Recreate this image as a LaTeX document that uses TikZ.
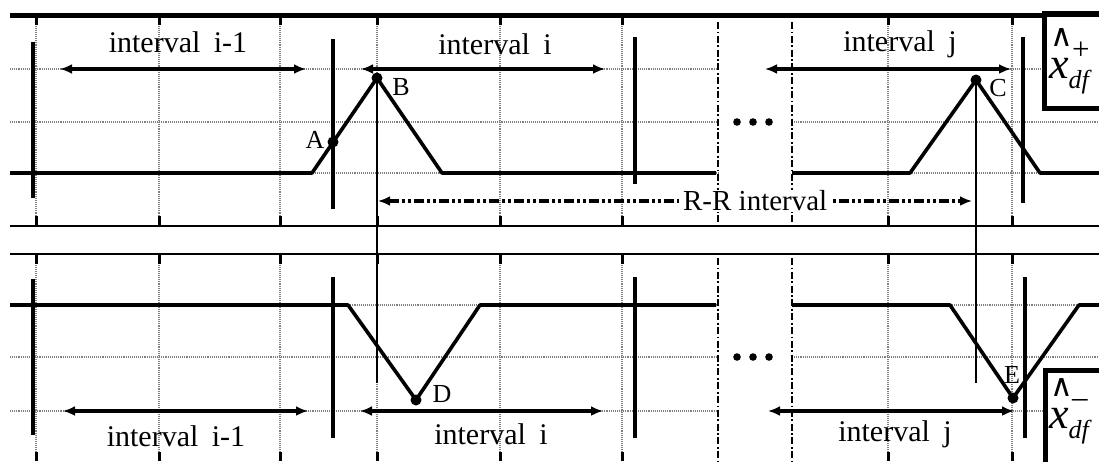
\documentclass[tikz,border=0pt]{standalone}
\usepackage{fontspec}
\setmainfont{Liberation Serif}
\newfontfamily\symfam{DejaVu Sans}
\usetikzlibrary{arrows.meta}
\begin{document}
\begin{tikzpicture}[x=1pt,y=-1pt,
  gridline/.style={black!50, line width=1.1pt, densely dotted},
  frame/.style={line width=1.8pt},
  topframe/.style={line width=5.5pt},
  tickmark/.style={line width=3pt},
  boundary/.style={line width=4pt},
  sig/.style={line width=3.6pt, line join=round},
  thin/.style={line width=2pt},
  iarrow/.style={line width=3.6pt, {Latex[length=12pt,width=10pt]}-{Latex[length=12pt,width=10pt]}},
  ddot/.style={line width=1.8pt, dash pattern=on 7pt off 2.5pt on 1.8pt off 2.5pt},
  rr/.style={line width=3.6pt, dash pattern=on 10pt off 3pt on 3pt off 3pt on 3pt off 3pt, {Latex[length=12pt,width=10pt]}-{Latex[length=12pt,width=10pt]}},
  dotpt/.style={circle, fill, inner sep=0pt, minimum size=11pt},
  lbl/.style={font=\fontsize{30}{34}\selectfont, inner sep=1pt},
  ptlbl/.style={font=\fontsize{26}{28}\selectfont, inner sep=1pt},
  boxlbl/.style={font=\fontsize{44}{46}\selectfont, inner sep=0pt},
  boxframe/.style={line width=5.5pt, fill=white}
]
\useasboundingbox (0,0) rectangle (1099,461);
\clip (0,0) rectangle (1099,461);

% ---------- grid ----------
\foreach \y in {69,122,173,305,357,411} {
  \draw[gridline] (10,\y) -- (718,\y);
  \draw[gridline] (792,\y) -- (1099,\y);
}
\foreach \x in {36,159,280,377,500,622,888,1012} {
  \draw[gridline] (\x,15) -- (\x,226);
  \draw[gridline] (\x,254) -- (\x,461);
  \draw[tickmark] (\x,15) -- (\x,25);
  \draw[tickmark] (\x,226) -- (\x,216);
  \draw[tickmark] (\x,254) -- (\x,264);
  \draw[tickmark] (\x,461) -- (\x,452);
}
% frame lines
\draw[topframe] (10,15.5) -- (1099,15.5);
\draw[frame] (10,226) -- (1099,226);
\draw[frame] (10,254) -- (1099,254);

% dash-dot separators
\draw[ddot] (718,22) -- (718,222);
\draw[ddot] (792,22) -- (792,222);
\draw[ddot] (718,258) -- (718,461);
\draw[ddot] (792,258) -- (792,461);

% ellipsis dots
\foreach \x in {737,753,769} {
  \fill (\x,122) circle (3.8pt);
  \fill (\x,357) circle (3.8pt);
}

% ---------- interval boundaries ----------
\draw[boundary] (33,42) -- (33,198);
\draw[boundary] (333,39) -- (333,209);
\draw[boundary] (635,37) -- (635,184);
\draw[boundary] (1023,37) -- (1023,203);
\draw[boundary] (33,279) -- (33,435);
\draw[boundary] (333,277) -- (333,438);
\draw[boundary] (635,277) -- (635,438);
\draw[boundary] (1025,277) -- (1025,438);

% ---------- signal points ----------
\coordinate (s1) at (10,173);
\coordinate (s2) at (312,173);
\coordinate (B) at (377,78);
\coordinate (s3) at (442,173);
\coordinate (s4) at (716,173);
\coordinate (A) at (333,142);
\coordinate (t1) at (792,173);
\coordinate (t2) at (910,173);
\coordinate (C) at (976,80);
\coordinate (t3) at (1040,173);
\coordinate (t4) at (1099,173);

\coordinate (u1) at (10,305);
\coordinate (u2) at (348,305);
\coordinate (D) at (416,400);
\coordinate (u3) at (480,305);
\coordinate (u4) at (716,305);
\coordinate (v1) at (792,305);
\coordinate (v2) at (950,305);
\coordinate (E) at (1013,398);
\coordinate (v3) at (1079,305);
\coordinate (v4) at (1099,305);

\coordinate (Bdown) at (377,383);
\coordinate (Cdown) at (976,383);

% R-peak drop lines
\draw[thin] (B) -- (Bdown);
\draw[thin] (C) -- (Cdown);

% signals
\draw[sig] (s1) -- (s2) -- (B) -- (s3) -- (s4);
\draw[sig] (t1) -- (t2) -- (C) -- (t3) -- (t4);
\draw[sig] (u1) -- (u2) -- (D) -- (u3) -- (u4);
\draw[sig] (v1) -- (v2) -- (E) -- (v3) -- (v4);

% points
\node[dotpt] (pA) at (A) {};
\node[dotpt] (pB) at (B) {};
\node[dotpt] (pC) at (C) {};
\node[dotpt] (pD) at (D) {};
\node[dotpt] (pE) at (E) {};
\node[ptlbl] (lA) at (315,140) {A};
\node[ptlbl] (lB) at (401,87) {B};
\node[ptlbl] (lC) at (998,88) {C};
\node[ptlbl] (lD) at (442,394) {D};
\node[ptlbl] (lE) at (1012,375) {E};

% ---------- interval arrows ----------
\coordinate (a1l) at (60,69);  \coordinate (a1r) at (306,69);
\coordinate (a2l) at (361,69); \coordinate (a2r) at (605,69);
\coordinate (a3l) at (765,69); \coordinate (a3r) at (1011,69);
\coordinate (b1l) at (63,411); \coordinate (b1r) at (308,411);
\coordinate (b2l) at (360,411); \coordinate (b2r) at (603,411);
\coordinate (b3l) at (768,411); \coordinate (b3r) at (1014,411);
\draw[iarrow] (a1l) -- (a1r);
\draw[iarrow] (a2l) -- (a2r);
\draw[iarrow] (a3l) -- (a3r);
\draw[iarrow] (b1l) -- (b1r);
\draw[iarrow] (b2l) -- (b2r);
\draw[iarrow] (b3l) -- (b3r);

\node[lbl] (ti1) at (178,42) {interval\hspace{0.45em}i-1};
\node[lbl] (ti) at (495,44) {interval\hspace{0.45em}i};
\node[lbl] (tj) at (900,44) {interval\hspace{0.45em}j};
\node[lbl] (bi1) at (176,436) {interval\hspace{0.45em}i-1};
\node[lbl] (bi) at (491,434) {interval\hspace{0.45em}i};
\node[lbl] (bj) at (895,434) {interval\hspace{0.45em}j};

% R-R interval
\coordinate (rrL) at (378,201);
\coordinate (rrR) at (972,201);
\draw[rr] (rrL) -- node[pos=0.635, fill=white, font=\fontsize{29}{32}\selectfont, inner xsep=4pt, inner ysep=1pt] (rrlbl) {R-R interval} (rrR);

% ---------- boxes ----------
\draw[boxframe] (1044.5,14) rectangle (1115,108.5);
\node[boxlbl, anchor=base west] (xplus) at (1049,78)
  {\rlap{\hspace{1pt}\raisebox{32pt}{\symfam\fontsize{31}{31}\selectfont ∧}}%
   \rlap{\hspace{23pt}\raisebox{19pt}{\fontsize{31}{31}\selectfont +}}%
   \textit{x}\raisebox{-10pt}{\fontsize{26}{26}\selectfont\textit{df}}};
\draw[boxframe] (1045.5,370.5) rectangle (1115,475);
\node[boxlbl, anchor=base west] (xminus) at (1049,428)
  {\rlap{\hspace{1pt}\raisebox{32pt}{\symfam\fontsize{31}{31}\selectfont ∧}}%
   \rlap{\hspace{23pt}\raisebox{21pt}{\fontsize{31}{31}\selectfont –}}%
   \textit{x}\raisebox{-10pt}{\fontsize{26}{26}\selectfont\textit{df}}};
\end{tikzpicture}
\end{document}
